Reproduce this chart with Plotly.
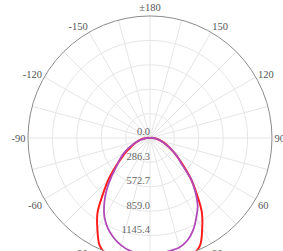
import plotly.graph_objects as go

# ---- data ----
theta = [-180, -175, -170, -165, -160, -155, -150, -145, -140, -135, -130, -125, -120, -115, -110, -105,
         -100, -95, -90, -85, -80, -75, -70, -65, -60, -55, -50, -45, -40, -35, -30, -25, -20, -15, -10, -5,
         0, 5, 10, 15, 20, 25, 30, 35, 40, 45, 50, 55, 60, 65, 70, 75, 80, 85, 90, 95, 100,
         105, 110, 115, 120, 125, 130, 135, 140, 145, 150, 155, 160, 165, 170, 175, 180]

red_cd = [0, 0, 0, 0, 0, 0, 0, 0, 0, 0, 0, 0, 0, 0, 0, 2,
          8, 20, 40, 70, 110, 150, 195, 245, 320, 410, 530, 690, 860, 1075, 1235, 1395, 1470, 1515, 1540, 1555,
          1560, 1555, 1540, 1510, 1465, 1390, 1225, 1060, 850, 680, 520, 400, 310, 240, 185, 140, 100, 65, 35, 18, 8,
          2, 0, 0, 0, 0, 0, 0, 0, 0, 0, 0, 0, 0, 0, 0, 0]

purple_cd = [0, 0, 0, 0, 0, 0, 0, 0, 0, 0, 0, 0, 0, 0, 0, 2,
             8, 18, 38, 68, 105, 150, 205, 275, 350, 430, 510, 640, 790, 935, 1070, 1170, 1245, 1305, 1345, 1365,
             1372, 1365, 1346, 1330, 1280, 1195, 1085, 975, 830, 680, 495, 400, 310, 230, 175, 130, 95, 62, 35, 17, 7,
             2, 0, 0, 0, 0, 0, 0, 0, 0, 0, 0, 0, 0, 0, 0, 0]

radial_ticks = [0, 286.35, 572.7, 859.05, 1145.4, 1431.75]
radial_labels = ["0.0", "286.3", "572.7", "859.0", "1145.4"]

angle_ticks = list(range(0, 360, 15))
angle_labels = ["0", "", "30", "", "60", "", "90", "", "120", "", "150", "",
                "±180", "", "-150", "", "-120", "", "-90", "", "-60", "", "-30", ""]

FONT = "Liberation Serif"

fig = go.Figure()
fig.add_trace(go.Scatterpolar(r=red_cd, theta=theta, mode="lines",
                              line=dict(color="#FF1E1E", width=2, shape="spline"),
                              hoverinfo="skip"))
fig.add_trace(go.Scatterpolar(r=purple_cd, theta=theta, mode="lines",
                              line=dict(color="#B04AB8", width=1.8, shape="spline"),
                              hoverinfo="skip"))
fig.add_trace(go.Scatterpolar(r=radial_ticks[:5], theta=[0] * 5, mode="text",
                              text=radial_labels, textposition="top left",
                              textfont=dict(family=FONT, size=10.5, color="#666666"),
                              hoverinfo="skip"))

fig.update_layout(
    width=283, height=260,
    margin=dict(l=28, r=11, t=16, b=0),
    paper_bgcolor="white",
    showlegend=False,
    font=dict(family=FONT, size=10.5, color="#555555"),
    polar=dict(
        bgcolor="white",
        radialaxis=dict(range=[0, 1431.75], tickvals=radial_ticks, showticklabels=False,
                        ticks="", showline=False, gridcolor="#E6E6E6", gridwidth=1),
        angularaxis=dict(rotation=-90, direction="counterclockwise",
                         tickmode="array", tickvals=angle_ticks, ticktext=angle_labels,
                         ticks="", showline=True, linecolor="#8C8C8C", linewidth=1,
                         gridcolor="#E6E6E6", gridwidth=1,
                         tickfont=dict(family=FONT, size=10.5, color="#555555")),
    ),
)

fig.write_html("out.html", config={"displayModeBar": False},
               post_script="document.body.style.margin='0';document.body.style.overflow='hidden';")
